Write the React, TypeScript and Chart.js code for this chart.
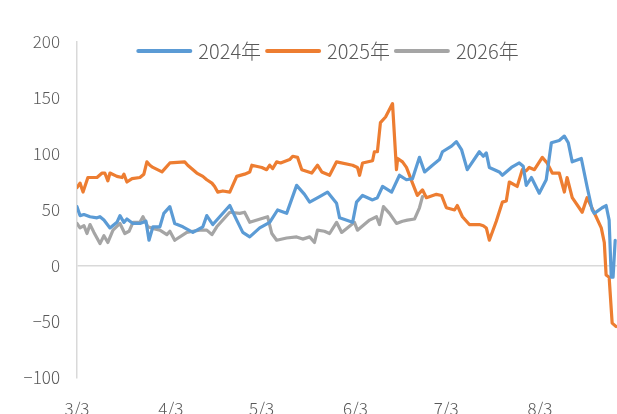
import React, { useEffect, useRef } from "react";
import { Chart, registerables } from "chart.js";

Chart.register(...registerables);

// x positions are day offsets from 3/3
const tickDays = [0, 31, 61, 92, 122, 153];
const tickLabels = ["3/3", "4/3", "5/3", "6/3", "7/3", "8/3"];
const seriesNames = ["2024年", "2025年", "2026年"];

const days2024 = [0, 1, 2.3, 4.3, 6.6, 7.6, 8.9, 10.9, 13.2, 14.2, 15.5, 16.5, 18.5, 20.8, 22.8, 23.8, 25.1, 27.4, 28.7, 30.7, 32.3, 35, 38.3, 41.6, 42.9, 44.9, 50.5, 52.8, 54.8, 57.1, 60.4, 63.7, 66.3, 69.3, 72.6, 75.2, 76.9, 80.2, 82.8, 85.8, 86.8, 91.1, 92.4, 94.4, 97.7, 99.3, 101, 104, 106.6, 108.9, 110.9, 113.2, 114.9, 117.5, 119.8, 120.8, 123.8, 125.4, 127.1, 129, 133, 134.3, 135.3, 136.3, 139.6, 140.6, 143.6, 146.2, 147.5, 148.5, 150.2, 152.8, 155.1, 156.8, 159.4, 161.1, 162.4, 163.7, 166.7, 168.6, 170.3, 171, 173.6, 174.9, 175.9, 176.6, 177.2, 177.9];
const vals2024 = [53, 45, 46, 44, 43, 44, 41, 34, 39, 45, 39, 42, 38, 38, 40, 23, 35, 35, 47, 53, 38, 35, 30, 35, 45, 37, 54, 41, 30, 26, 34, 39, 50, 47, 72, 64, 57, 62, 66, 56, 43, 39, 57, 63, 59, 61, 71, 66, 81, 77, 78, 97, 84, 90, 95, 102, 107, 111, 104, 86, 102, 98, 101, 88, 84, 81, 88, 92, 89, 72, 79, 65, 77, 110, 112, 116, 110, 93, 96, 71, 50, 47, 52, 54, 41, -10, -10, 23];

const days2025 = [0, 1, 2, 3.6, 6.6, 8.3, 9.2, 10.2, 10.9, 13.2, 14.9, 15.5, 16.5, 18.2, 20.8, 22.1, 23.1, 24.1, 25.1, 28.1, 30.7, 35.6, 36.6, 39.6, 41.6, 42.9, 44.6, 45.5, 46.5, 48.2, 50.5, 52.8, 55.4, 57.1, 57.8, 61.1, 62.7, 63.7, 64.7, 66, 67.3, 70.3, 71.3, 72.9, 74.3, 77.6, 79.5, 80.9, 83.5, 85.8, 91.1, 92.7, 93.4, 94.4, 97.7, 98.3, 99.3, 100.3, 102, 104.3, 105.6, 106, 107.6, 108.9, 110.9, 112.5, 114.2, 115.5, 118.8, 120.5, 122.1, 124.8, 125.7, 127.4, 129.7, 133, 134.3, 135.3, 136.3, 138.6, 140.6, 141.9, 142.9, 145.5, 147.2, 148.5, 149.5, 151.2, 153.8, 155.4, 157.1, 159.4, 161.1, 162, 163.7, 167, 168.6, 171.6, 173.3, 174.3, 174.9, 175.9, 176.9, 178.2];
const vals2025 = [70, 74, 66, 79, 79, 83, 83, 76, 83, 80, 79, 82, 75, 78, 79, 82, 93, 90, 88, 84, 92, 93, 90, 83, 80, 77, 74, 71, 66, 67, 66, 80, 82, 84, 90, 88, 86, 90, 87, 93, 92, 95, 98, 97, 86, 83, 90, 84, 81, 93, 90, 88, 81, 92, 94, 102, 102, 128, 133, 145, 86, 96, 93, 88, 74, 63, 68, 61, 64, 63, 52, 50, 54, 44, 37, 37, 36, 34, 23, 40, 57, 58, 75, 71, 86, 85, 88, 86, 97, 92, 83, 83, 66, 79, 61, 48, 61, 44, 34, 21, -8, -10, -51, -54];

const days2026 = [0, 1, 2.3, 3.3, 4.3, 5.6, 7.6, 8.9, 10.2, 11.9, 14.2, 15.8, 17.2, 18.5, 20.8, 21.8, 23.4, 25.7, 27.4, 29.7, 30.7, 32.3, 36.3, 38.3, 40.6, 42.9, 44.6, 46.2, 50.5, 53.8, 55.4, 57.1, 63, 64.4, 66, 69.3, 72.6, 74.6, 76.9, 78.5, 79.5, 81.8, 83.5, 85.8, 87.5, 91.7, 92.7, 96.7, 99, 100, 101.3, 103.3, 105.6, 107.6, 109.2, 111.6, 113.2, 114.2];
const vals2026 = [38, 34, 36, 29, 37, 30, 20, 27, 21, 32, 38, 29, 31, 39, 39, 44, 35, 33, 32, 28, 31, 23, 30, 31, 32, 32, 28, 35, 48, 47, 48, 39, 44, 29, 23, 25, 26, 24, 26, 21, 32, 31, 29, 39, 30, 39, 32, 41, 44, 37, 53, 47, 38, 40, 41, 42, 52, 62];

const colors = ["#5B9BD5", "#ED7D31", "#A5A5A5"];
const FONT = '"Noto Sans CJK SC", "Noto Sans", sans-serif';
const TEXT = "#595959";

const toPoints = (xs: number[], ys: number[]) => xs.map((x, i) => ({ x, y: ys[i] }));

const legendPlugin = {
  id: "topLegend",
  afterDraw(chart: any) {
    const ctx = chart.ctx;
    ctx.save();
    ctx.font = `300 20px ${FONT}`;
    const lineLen = 56;
    const gapLT = 6;
    const gapItems = 4;
    const items = chart.data.datasets.map((d: any) => ({
      label: d.label,
      color: d.borderColor,
      w: ctx.measureText(d.label).width,
    }));
    const total = items.reduce((s: number, it: any) => s + lineLen + gapLT + it.w, 0) + gapItems * (items.length - 1);
    let x = 327.5 - total / 2;
    const y = 51;
    ctx.textBaseline = "middle";
    ctx.textAlign = "left";
    for (const it of items) {
      ctx.strokeStyle = it.color;
      ctx.lineWidth = 4;
      ctx.lineCap = "round";
      ctx.beginPath();
      ctx.moveTo(x + 2, y);
      ctx.lineTo(x + lineLen - 2, y);
      ctx.stroke();
      x += lineLen + gapLT;
      ctx.fillStyle = TEXT;
      ctx.fillText(it.label, x, y);
      x += it.w + gapItems;
    }
    ctx.restore();
  },
};

export default function App() {
  const ref = useRef<HTMLCanvasElement | null>(null);
  useEffect(() => {
    if (!ref.current) return;
    const chart = new Chart(ref.current, {
      type: "line",
      data: {
        datasets: [
          { label: seriesNames[0], data: toPoints(days2024, vals2024), borderColor: colors[0] },
          { label: seriesNames[1], data: toPoints(days2025, vals2025), borderColor: colors[1] },
          { label: seriesNames[2], data: toPoints(days2026, vals2026), borderColor: colors[2] },
        ].map((d) => ({
          ...d,
          backgroundColor: d.borderColor,
          borderWidth: 3.2,
          pointRadius: 0,
          tension: 0,
          borderJoinStyle: "round" as const,
          borderCapStyle: "round" as const,
        })),
      },
      options: {
        responsive: false,
        animation: false,
        devicePixelRatio: 1,
        layout: { padding: { top: 42, left: 0, right: 0, bottom: 0 } },
        plugins: { legend: { display: false }, tooltip: { enabled: false } },
        scales: {
          x: {
            type: "linear",
            min: 0,
            max: 178.5,
            afterBuildTicks: (s: any) => {
              s.ticks = tickDays.map((v) => ({ value: v }));
            },
            afterFit: (s: any) => {
              s.height = 40;
            },
            ticks: {
              autoSkip: false,
              maxRotation: 0,
              padding: 20,
              color: TEXT,
              font: { family: FONT, size: 17, weight: "300" },
              callback: (_v: any, i: number) => tickLabels[i],
            },
            grid: { display: false, drawTicks: false },
            border: { display: false },
          },
          y: {
            min: -100,
            max: 200,
            afterFit: (s: any) => {
              s.width = 77;
            },
            ticks: {
              stepSize: 50,
              padding: 17,
              color: TEXT,
              font: { family: FONT, size: 17, weight: "300" },
              callback: (v: any) => String(v).replace("-", "−"),
            },
            grid: {
              drawTicks: false,
              lineWidth: 1.5,
              color: (c: any) => (c.tick && c.tick.value === 0 ? "#D9D9D9" : "rgba(0,0,0,0)"),
            },
            border: { display: true, color: "#D9D9D9", width: 1.5 },
          },
        },
      },
      plugins: [legendPlugin],
    });
    return () => chart.destroy();
  }, []);
  return (
    <div style={{ position: "fixed", left: 0, top: 0, width: 617, height: 414, overflow: "hidden", background: "#fff" }}>
      <canvas ref={ref} width={617} height={418} style={{ display: "block" }} />
    </div>
  );
}
